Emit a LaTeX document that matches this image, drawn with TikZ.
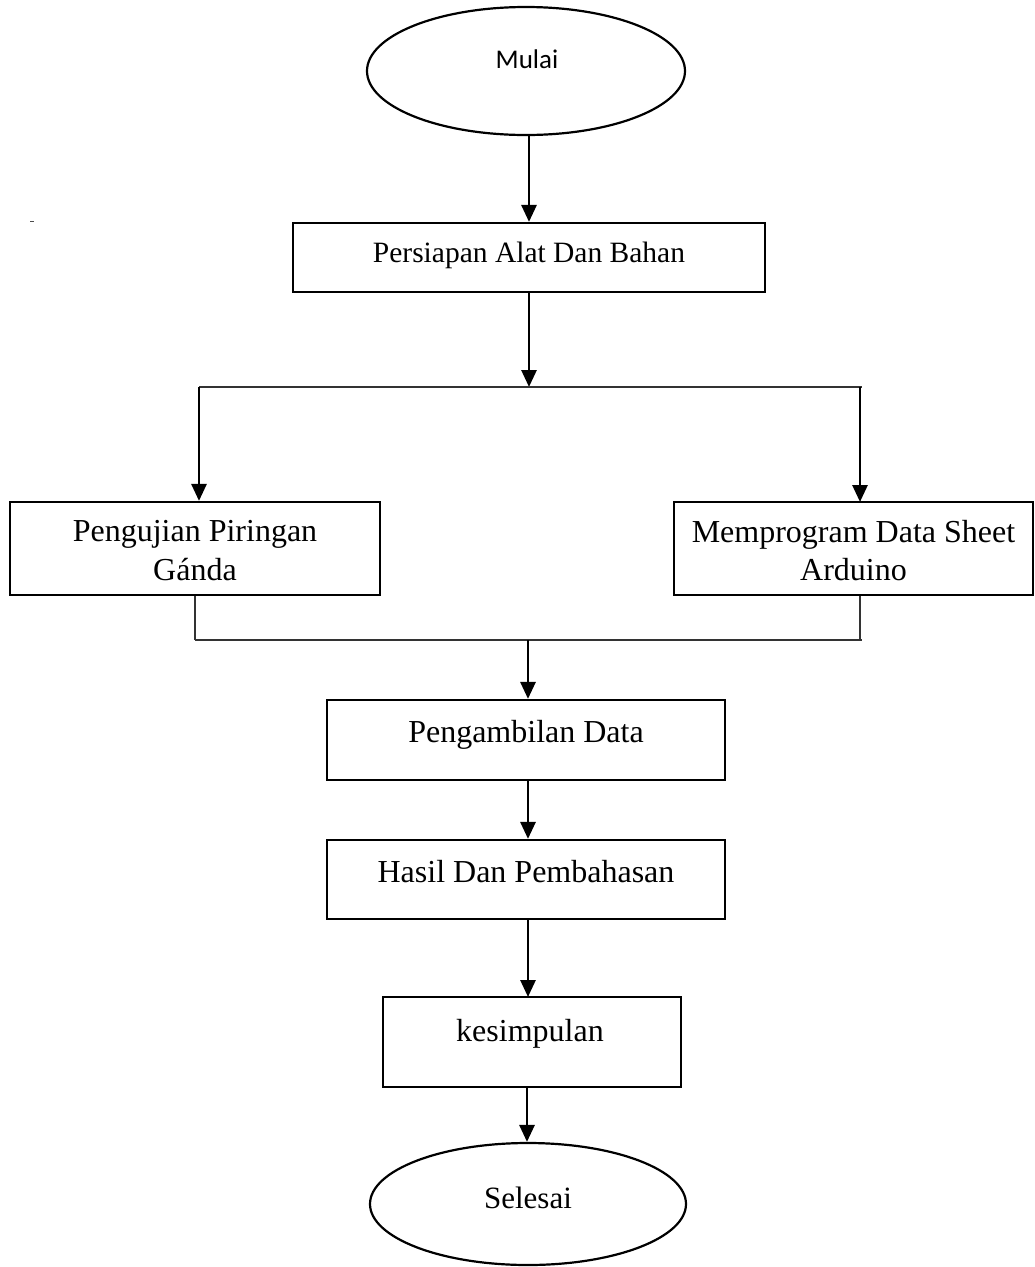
\documentclass[tikz,border=0pt]{standalone}
\usepackage{fontspec}
\setmainfont{Liberation Serif}
\newfontfamily\calfont{Carlito}
\usetikzlibrary{arrows.meta,shapes.geometric,calc}
\begin{document}
\begin{tikzpicture}[x=1pt,y=-1pt,
  box/.style={draw=black,line width=2.2pt,rectangle,inner sep=0pt},
  term/.style={draw=black,line width=2.2pt,ellipse,inner sep=0pt},
  txt/.style={anchor=base,inner sep=0pt,align=center},
  arr/.style={line width=2.8pt,-{Triangle[width=15pt,length=17pt]}},
  thin/.style={line width=1.5pt,draw=black!80}]
\useasboundingbox (0,0) rectangle (1035,1267);
% terminals
\node[term,minimum width=318pt,minimum height=128pt] (mulai) at (526,71) {};
\node[txt,font=\calfont\fontsize{27}{32}\selectfont] (tmulai) at (527,68) {Mulai};
\node[term,minimum width=316pt,minimum height=122pt] (selesai) at (528,1204) {};
\node[txt,font=\fontsize{31}{36}\selectfont] (tselesai) at (528,1208) {Selesai};
% boxes
\node[box,minimum width=472pt,minimum height=69pt] (persiapan) at (529,257.5) {};
\node[txt,font=\fontsize{29.5}{34}\selectfont] (tpersiapan) at (529,262) {Persiapan Alat Dan Bahan};
\node[box,minimum width=370pt,minimum height=93pt] (pengujian) at (195,548.5) {};
\node[txt,font=\fontsize{32}{39}\selectfont] (tpengujian) at (195,580) {Pengujian Piringan\\G\'anda};
\node[box,minimum width=359pt,minimum height=93pt] (memprogram) at (853.5,548.5) {};
\node[txt,font=\fontsize{32}{38}\selectfont] (tmemprogram) at (853.5,580) {Memprogram Data Sheet\\Arduino};
\node[box,minimum width=398pt,minimum height=80pt] (pengambilan) at (526,740) {};
\node[txt,font=\fontsize{32}{36}\selectfont] (tpengambilan) at (526,742) {Pengambilan Data};
\node[box,minimum width=398pt,minimum height=79pt] (hasil) at (526,879.5) {};
\node[txt,font=\fontsize{32}{36}\selectfont] (thasil) at (526,882) {Hasil Dan Pembahasan};
\node[box,minimum width=298pt,minimum height=90pt] (kesimpulan) at (532,1042) {};
\node[txt,font=\fontsize{32}{36}\selectfont] (tkesimpulan) at (530,1041) {kesimpulan};
% branch coordinates
\coordinate (split) at (529,387);
\coordinate (splitL) at (199,387);
\coordinate (splitR) at (862,387);
\coordinate (joinL) at (195,640);
\coordinate (joinR) at (862,640);
\coordinate (joinM) at (528,640);
% connectors
\draw[arr] (mulai.south -| persiapan.north) -- (persiapan.north);
\draw[arr] (persiapan.south) -- (split);
\draw[thin] (splitL) -- (splitR);
\draw[arr] (splitL) -- (splitL |- pengujian.north);
\draw[arr] (860,387) -- (860,502);
\draw[thin] (pengujian.south) -- (joinL);
\draw[thin] (memprogram.south -| 860,0) -- (860,640);
\draw[thin] (joinL) -- (joinR);
\draw[arr] (joinM) -- (joinM |- pengambilan.north);
\draw[arr] ($(pengambilan.south)+(2,0)$) -- ($(hasil.north)+(2,0)$);
\draw[arr] (hasil.south -| 528,0) -- (528,997);
\draw[arr] (kesimpulan.south -| 527,0) -- (selesai.north -| 527,0);
% stray mark
\draw[line width=1pt,black!70] (30,221) -- (34,221);
\end{tikzpicture}
\end{document}
